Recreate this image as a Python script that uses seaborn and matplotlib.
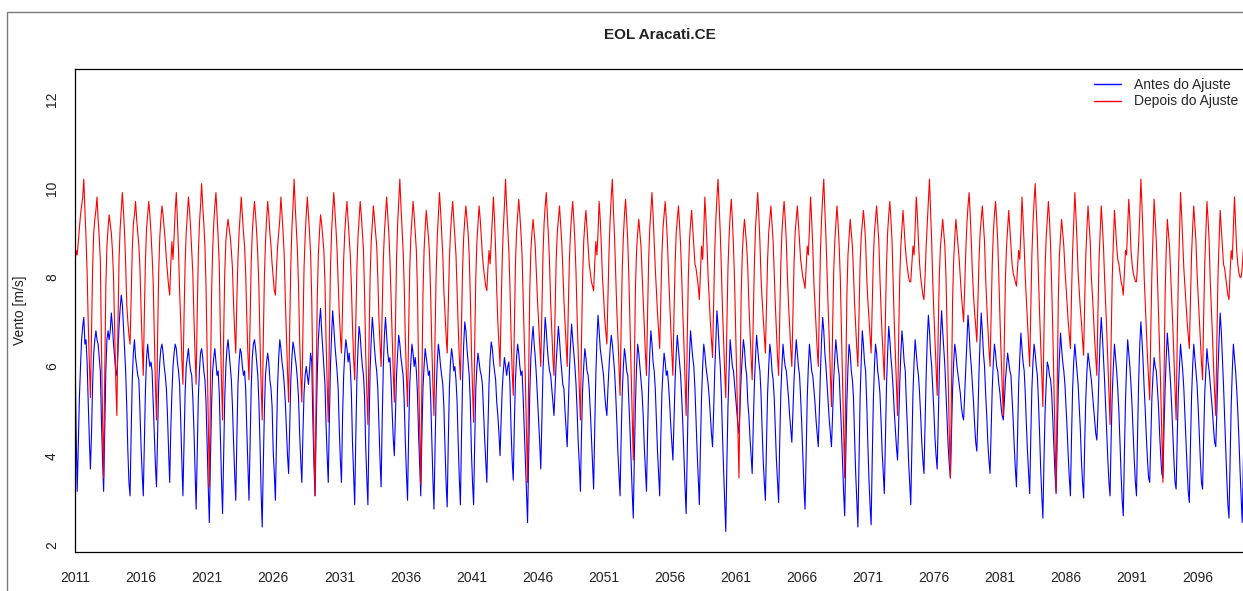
import numpy as np
import pandas as pd
import matplotlib
matplotlib.use("Agg")
import matplotlib.pyplot as plt
import seaborn as sns

# monthly wind speed [m/s], one row per year (Jan..Dec), 2011-2099
anos = list(range(2011, 2100))

antes = [
    [6.4, 4.6, 3.2, 4.3, 5.3, 6.0, 6.6, 6.9, 7.1, 6.5, 6.6, 6.1],  # 2011
    [5.2, 4.4, 3.7, 4.5, 5.6, 6.3, 6.6, 6.8, 6.6, 6.5, 6.2, 5.9],
    [4.8, 3.9, 3.2, 4.6, 5.9, 6.6, 6.8, 6.6, 6.8, 7.2, 6.9, 6.5],
    [6.2, 5.9, 5.8, 6.3, 6.9, 7.3, 7.6, 7.4, 6.9, 6.4, 5.9, 5.1],
    [4.1, 3.4, 3.1, 4.5, 5.7, 6.3, 6.6, 6.2, 6.0, 5.8, 5.7, 5.0],
    [4.2, 3.6, 3.1, 4.3, 5.5, 6.2, 6.5, 6.2, 6.0, 6.1, 5.9, 5.2],  # 2016
    [4.5, 3.8, 3.3, 4.4, 5.6, 6.1, 6.4, 6.5, 6.3, 6.0, 5.8, 5.5],
    [4.9, 4.1, 3.4, 4.6, 5.4, 6.0, 6.3, 6.5, 6.4, 6.1, 5.9, 5.6],
    [4.8, 3.9, 3.1, 4.2, 5.4, 6.0, 6.2, 6.4, 6.1, 5.9, 5.8, 5.3],
    [4.6, 3.7, 2.8, 4.1, 5.3, 5.9, 6.3, 6.4, 6.2, 5.9, 5.7, 5.2],
    [4.2, 3.3, 2.5, 3.9, 5.1, 5.9, 6.2, 6.4, 6.1, 5.8, 5.9, 5.4],  # 2021
    [4.4, 3.5, 2.7, 4.0, 5.3, 6.0, 6.4, 6.6, 6.3, 6.0, 5.7, 5.1],
    [4.3, 3.6, 3.0, 4.4, 5.6, 6.1, 6.4, 6.3, 6.0, 5.8, 5.9, 5.5],
    [4.6, 3.8, 3.0, 4.3, 5.5, 6.2, 6.5, 6.6, 6.4, 6.1, 5.8, 5.2],
    [4.3, 3.2, 2.4, 3.8, 5.0, 5.8, 6.1, 6.3, 6.1, 5.7, 5.5, 5.1],
    [4.1, 3.6, 3.0, 4.4, 5.6, 6.2, 6.6, 6.4, 6.1, 5.9, 5.6, 5.2],  # 2026
    [4.6, 4.0, 3.6, 4.7, 5.7, 6.2, 6.55, 6.4, 6.2, 6.0, 5.7, 5.3],
    [4.5, 3.9, 3.4, 4.5, 5.4, 5.8, 6.0, 5.8, 5.6, 5.9, 6.3, 6.1],
    [4.8, 3.8, 3.1, 4.6, 5.8, 6.6, 7.0, 7.3, 6.8, 6.4, 6.0, 5.6],
    [4.7, 4.0, 3.4, 4.8, 6.0, 6.7, 7.25, 6.9, 6.5, 6.2, 5.9, 5.5],
    [4.6, 3.9, 3.4, 4.9, 5.8, 6.3, 6.6, 6.4, 6.1, 6.3, 6.0, 5.4],  # 2031
    [4.3, 3.6, 2.9, 4.4, 5.7, 6.4, 6.9, 6.7, 6.3, 6.0, 5.8, 5.3],
    [4.2, 3.5, 2.9, 4.6, 5.9, 6.6, 7.1, 6.8, 6.4, 6.1, 5.9, 5.5],
    [4.7, 3.9, 3.3, 4.8, 6.0, 6.7, 7.1, 6.7, 6.3, 6.1, 6.2, 5.7],
    [5.0, 4.4, 4.0, 4.9, 5.8, 6.3, 6.7, 6.5, 6.2, 6.0, 5.8, 5.2],
    [4.3, 3.6, 3.0, 4.5, 5.6, 6.1, 6.5, 6.3, 6.0, 6.2, 5.9, 5.4],  # 2036
    [4.5, 3.8, 3.1, 4.4, 5.5, 6.0, 6.4, 6.2, 6.0, 5.8, 5.9, 5.3],
    [4.4, 3.5, 2.8, 4.2, 5.4, 6.1, 6.5, 6.3, 6.0, 5.8, 5.6, 5.1],
    [4.2, 3.4, 2.85, 4.3, 5.5, 6.1, 6.4, 6.2, 5.9, 6.0, 5.7, 5.2],
    [4.3, 3.5, 2.9, 4.4, 5.7, 6.5, 7.0, 6.8, 6.4, 6.1, 5.8, 5.2],
    [4.1, 3.4, 2.9, 4.3, 5.5, 6.0, 6.3, 6.1, 5.9, 5.8, 5.6, 5.0],  # 2041
    [4.4, 3.9, 3.4, 4.6, 5.6, 6.2, 6.55, 6.4, 6.1, 5.9, 5.7, 5.2],
    [4.9, 4.5, 4.0, 4.8, 5.5, 5.9, 6.2, 6.0, 5.8, 6.0, 6.1, 5.6],
    [4.6, 3.9, 3.45, 4.7, 5.7, 6.2, 6.5, 6.3, 6.0, 5.8, 5.9, 5.3],
    [4.6, 3.9, 3.2, 2.5, 4.0, 5.4, 6.2, 6.6, 6.9, 6.5, 6.2, 5.8],
    [5.3, 4.8, 4.3, 3.7, 4.8, 5.9, 6.5, 7.1, 6.8, 6.4, 6.1, 5.9],  # 2046
    [5.8, 5.5, 5.2, 4.9, 5.5, 6.1, 6.5, 6.9, 6.6, 6.2, 5.9, 5.6],
    [5.5, 5.0, 4.6, 4.2, 5.1, 5.9, 6.5, 6.95, 6.6, 6.3, 6.0, 5.6],
    [5.0, 4.3, 3.8, 3.2, 4.5, 5.5, 6.0, 6.4, 6.2, 5.9, 5.8, 5.5],
    [5.0, 4.4, 3.8, 3.25, 4.6, 5.8, 6.6, 7.15, 6.8, 6.4, 6.2, 6.0],
    [5.8, 5.4, 5.1, 4.9, 5.5, 6.0, 6.4, 6.7, 6.5, 6.2, 5.9, 5.4],  # 2051
    [4.8, 4.1, 3.6, 3.1, 4.4, 5.4, 6.0, 6.4, 6.2, 5.9, 5.8, 5.2],
    [4.6, 3.9, 3.2, 2.6, 4.0, 5.2, 6.0, 6.5, 6.3, 6.0, 5.7, 5.4],
    [4.9, 4.2, 3.7, 3.2, 4.5, 5.6, 6.3, 6.8, 6.5, 6.1, 5.9, 5.5],
    [4.8, 4.1, 3.6, 3.1, 4.4, 5.4, 5.9, 6.3, 6.1, 5.8, 5.9, 5.6],
    [5.2, 4.7, 4.3, 3.9, 4.8, 5.7, 6.3, 6.7, 6.4, 6.1, 5.8, 5.3],  # 2056
    [4.7, 4.0, 3.3, 2.7, 4.1, 5.4, 6.2, 6.8, 6.5, 6.2, 6.0, 5.5],
    [4.8, 4.1, 3.5, 2.9, 4.2, 5.3, 6.0, 6.5, 6.3, 6.0, 5.8, 5.6],
    [5.3, 4.9, 4.5, 4.2, 5.0, 5.9, 6.6, 7.25, 6.9, 6.4, 6.0, 5.4],
    [4.5, 3.7, 3.0, 2.3, 3.8, 5.1, 5.9, 6.6, 6.3, 6.0, 5.9, 5.6],
    [5.3, 5.0, 4.7, 4.5, 5.1, 5.8, 6.2, 6.6, 6.4, 6.0, 5.8, 5.2],  # 2061
    [4.9, 4.4, 4.0, 3.6, 4.7, 5.6, 6.2, 6.7, 6.4, 6.1, 5.9, 5.4],
    [4.6, 3.9, 3.4, 3.0, 4.3, 5.4, 6.0, 6.5, 6.3, 5.9, 5.7, 5.3],
    [4.6, 3.9, 3.4, 2.95, 4.3, 5.4, 6.0, 6.5, 6.2, 6.0, 5.9, 5.6],
    [5.3, 4.9, 4.6, 4.3, 5.0, 5.7, 6.2, 6.6, 6.3, 6.0, 5.8, 5.3],
    [4.7, 4.0, 3.3, 2.8, 4.1, 5.3, 6.0, 6.5, 6.2, 5.9, 5.8, 5.5],  # 2066
    [5.2, 4.8, 4.5, 4.2, 5.0, 5.9, 6.6, 7.1, 6.8, 6.3, 6.0, 5.6],
    [5.2, 4.8, 4.5, 4.2, 4.9, 5.7, 6.2, 6.6, 6.3, 6.0, 5.8, 5.2],
    [4.6, 3.9, 3.2, 2.65, 4.0, 5.2, 6.0, 6.5, 6.3, 5.9, 5.7, 5.3],
    [4.4, 3.6, 3.0, 2.4, 3.9, 5.3, 6.1, 6.8, 6.5, 6.1, 5.9, 5.2],
    [4.3, 3.5, 2.9, 2.45, 3.9, 5.2, 6.0, 6.5, 6.3, 5.9, 5.7, 5.4],  # 2071
    [4.8, 4.1, 3.6, 3.15, 4.4, 5.6, 6.3, 6.9, 6.6, 6.2, 5.9, 5.5],
    [5.0, 4.6, 4.2, 3.9, 4.7, 5.6, 6.3, 6.8, 6.5, 6.1, 5.9, 5.2],
    [4.6, 3.9, 3.4, 2.9, 4.2, 5.4, 6.1, 6.6, 6.3, 6.0, 5.8, 5.4],
    [4.9, 4.3, 3.9, 3.6, 4.7, 5.8, 6.6, 7.15, 6.8, 6.3, 6.0, 5.5],
    [5.0, 4.4, 4.0, 3.7, 4.8, 5.9, 6.7, 7.25, 6.8, 6.4, 6.0, 5.4],  # 2076
    [4.8, 4.2, 3.8, 3.5, 4.5, 5.5, 6.1, 6.5, 6.3, 6.0, 5.8, 5.6],
    [5.4, 5.1, 4.9, 4.8, 5.4, 6.0, 6.6, 7.15, 6.8, 6.3, 6.0, 5.6],
    [5.2, 4.7, 4.3, 4.1, 4.9, 5.9, 6.6, 7.2, 6.8, 6.3, 6.0, 5.4],
    [4.9, 4.3, 3.9, 3.6, 4.6, 5.5, 6.1, 6.5, 6.3, 6.0, 5.9, 5.6],
    [5.4, 5.1, 4.9, 4.8, 5.2, 5.7, 6.0, 6.3, 6.1, 5.9, 5.8, 5.3],  # 2081
    [4.8, 4.2, 3.7, 3.3, 4.5, 5.6, 6.2, 6.75, 6.4, 6.1, 5.9, 5.4],
    [4.7, 4.1, 3.6, 3.15, 4.4, 5.5, 6.1, 6.5, 6.3, 6.0, 5.8, 5.2],
    [4.5, 3.7, 3.1, 2.6, 3.9, 5.0, 5.6, 6.1, 6.0, 5.8, 5.7, 5.4],
    [4.8, 4.2, 3.6, 3.15, 4.4, 5.5, 6.2, 6.75, 6.4, 6.1, 5.9, 5.6],
    [5.1, 4.6, 4.0, 3.5, 3.1, 4.4, 5.5, 6.1, 6.5, 6.2, 5.9, 5.6],  # 2086
    [5.1, 4.6, 3.9, 3.4, 3.05, 4.3, 5.3, 5.9, 6.3, 6.1, 5.9, 5.7],
    [5.4, 5.1, 4.8, 4.5, 4.35, 5.0, 5.9, 6.6, 7.1, 6.7, 6.2, 5.7],
    [5.1, 4.5, 3.9, 3.4, 3.1, 4.4, 5.4, 6.0, 6.5, 6.2, 5.9, 5.5],
    [5.0, 4.3, 3.6, 3.0, 2.65, 4.0, 5.2, 6.0, 6.6, 6.3, 6.0, 5.6],
    [5.1, 4.5, 3.9, 3.4, 3.1, 4.5, 5.7, 6.5, 7.0, 6.6, 6.1, 5.5],  # 2091
    [5.0, 4.4, 3.9, 3.5, 3.4, 4.4, 5.3, 5.8, 6.2, 6.0, 5.9, 5.5],
    [5.1, 4.5, 4.0, 3.6, 3.5, 4.6, 5.5, 6.2, 6.75, 6.4, 6.0, 5.6],
    [5.1, 4.5, 3.9, 3.4, 3.25, 4.4, 5.4, 6.0, 6.5, 6.2, 5.9, 5.5],
    [4.9, 4.3, 3.7, 3.2, 2.95, 4.2, 5.3, 6.0, 6.5, 6.2, 5.9, 5.6],
    [5.1, 4.5, 3.9, 3.4, 3.25, 4.4, 5.4, 5.9, 6.4, 6.1, 5.9, 5.6],  # 2096
    [5.3, 5.0, 4.6, 4.3, 4.2, 5.0, 5.9, 6.6, 7.2, 6.8, 6.2, 5.6],
    [4.9, 4.2, 3.5, 2.9, 2.6, 3.9, 5.1, 5.9, 6.5, 6.2, 5.9, 5.5],
    [5.0, 4.4, 3.7, 3.1, 2.5, 3.8, 5.0, 5.8, 6.3, 6.0, 5.7, 5.3],  # 2099
]

depois = [
    [8.3, 8.6, 8.5, 8.8, 9.1, 9.4, 9.6, 9.8, 10.2, 9.5, 8.9, 8.1],  # 2011
    [7.0, 6.1, 5.3, 6.8, 8.2, 9.0, 9.3, 9.5, 9.8, 9.3, 8.9, 8.4],
    [6.5, 4.9, 3.5, 5.8, 7.8, 8.7, 9.1, 9.4, 9.2, 9.0, 8.6, 8.0],
    [6.8, 5.7, 4.9, 6.9, 8.4, 9.1, 9.5, 9.9, 9.5, 9.0, 8.3, 7.4],
    [7.0, 6.7, 6.5, 7.6, 8.6, 9.2, 9.4, 9.7, 9.3, 9.0, 8.7, 8.2],
    [7.3, 6.5, 5.8, 7.2, 8.4, 9.1, 9.4, 9.7, 9.4, 9.0, 8.5, 7.9],  # 2016
    [6.7, 5.6, 4.8, 6.6, 8.1, 8.9, 9.3, 9.6, 9.4, 9.1, 8.8, 8.4],
    [8.1, 7.8, 7.6, 8.3, 8.8, 8.4, 8.9, 9.5, 9.9, 9.3, 8.6, 7.7],
    [7.0, 6.2, 5.6, 7.1, 8.3, 9.0, 9.4, 9.8, 9.5, 9.1, 8.6, 8.1],
    [7.1, 6.3, 5.6, 7.2, 8.5, 9.2, 9.6, 10.1, 9.6, 9.2, 8.7, 7.8],
    [6.3, 4.8, 3.3, 5.6, 7.6, 8.6, 9.2, 9.6, 9.9, 9.4, 8.9, 8.3],  # 2021
    [6.8, 5.7, 4.8, 6.7, 8.1, 8.8, 9.1, 9.3, 9.1, 8.9, 8.6, 8.2],
    [7.4, 6.8, 6.3, 7.5, 8.4, 9.0, 9.4, 9.8, 9.4, 9.0, 8.7, 8.1],
    [7.1, 6.3, 5.7, 7.0, 8.3, 9.0, 9.4, 9.7, 9.4, 9.0, 8.5, 7.8],
    [6.6, 5.6, 4.8, 6.6, 8.0, 8.8, 9.3, 9.7, 9.4, 9.0, 8.7, 8.3],
    [8.0, 7.7, 7.6, 8.2, 8.7, 9.0, 9.3, 9.8, 9.4, 9.0, 8.5, 7.5],  # 2026
    [6.7, 5.9, 5.2, 6.9, 8.3, 9.1, 9.6, 10.2, 9.6, 9.1, 8.6, 7.8],
    [6.6, 5.8, 5.2, 6.8, 8.2, 8.9, 9.4, 9.8, 9.4, 9.0, 8.5, 7.5],
    [5.8, 4.3, 3.1, 5.5, 7.5, 8.5, 9.0, 9.4, 9.2, 8.9, 8.6, 7.9],
    [6.6, 5.6, 4.75, 6.6, 8.2, 9.0, 9.5, 9.9, 9.5, 9.1, 8.6, 7.9],
    [7.2, 6.7, 6.3, 7.4, 8.4, 9.0, 9.4, 9.7, 9.3, 8.9, 8.5, 7.8],  # 2031
    [6.9, 6.2, 5.7, 7.0, 8.2, 8.9, 9.3, 9.7, 9.4, 9.0, 8.6, 7.6],
    [6.3, 5.4, 4.7, 6.5, 8.0, 8.8, 9.2, 9.6, 9.3, 9.0, 8.7, 8.0],
    [7.1, 6.5, 6.0, 7.3, 8.4, 9.0, 9.4, 9.8, 9.4, 9.0, 8.4, 7.6],
    [6.7, 5.9, 5.2, 6.9, 8.4, 9.2, 9.7, 10.2, 9.6, 9.1, 8.6, 7.8],
    [6.6, 5.8, 5.1, 6.8, 8.2, 8.9, 9.3, 9.7, 9.4, 9.0, 8.6, 7.7],  # 2036
    [6.0, 4.6, 3.35, 5.6, 7.6, 8.6, 9.1, 9.5, 9.2, 8.9, 8.5, 7.6],
    [6.5, 5.6, 4.9, 6.7, 8.1, 8.9, 9.4, 9.9, 9.5, 9.0, 8.5, 7.7],
    [7.2, 6.7, 6.3, 7.4, 8.4, 9.0, 9.4, 9.7, 9.3, 8.9, 8.5, 7.7],
    [6.9, 6.2, 5.7, 7.0, 8.2, 8.9, 9.3, 9.6, 9.3, 9.0, 8.5, 7.6],
    [6.4, 5.5, 4.75, 6.5, 8.0, 8.8, 9.2, 9.6, 9.3, 8.9, 8.5, 8.2],  # 2041
    [8.0, 7.8, 7.7, 8.2, 8.6, 8.3, 8.8, 9.3, 9.8, 9.3, 8.6, 7.7],
    [7.0, 6.5, 6.0, 7.3, 8.4, 9.1, 9.6, 10.2, 9.6, 9.1, 8.6, 7.8],
    [6.7, 5.9, 5.35, 6.9, 8.3, 9.0, 9.4, 9.75, 9.4, 9.0, 8.5, 7.5],
    [6.6, 5.7, 4.6, 3.4, 5.8, 7.7, 8.6, 9.0, 9.3, 9.0, 8.7, 8.1],
    [7.5, 7.0, 6.5, 6.0, 7.3, 8.5, 9.2, 9.6, 9.9, 9.4, 8.9, 8.3],  # 2046
    [7.4, 6.8, 6.2, 5.8, 7.2, 8.4, 9.0, 9.3, 9.6, 9.2, 8.8, 8.2],
    [7.5, 7.0, 6.5, 6.0, 7.3, 8.4, 9.0, 9.4, 9.7, 9.3, 8.8, 8.1],
    [7.1, 6.3, 5.5, 4.8, 6.6, 8.0, 8.8, 9.2, 9.5, 9.1, 8.7, 8.3],
    [8.1, 7.9, 7.8, 7.7, 8.3, 8.8, 8.5, 9.0, 9.7, 9.3, 8.7, 8.0],
    [7.6, 7.1, 6.8, 6.5, 7.6, 8.6, 9.3, 9.8, 10.2, 9.5, 8.9, 8.1],  # 2051
    [7.3, 6.7, 6.0, 5.35, 6.9, 8.2, 8.9, 9.4, 9.75, 9.3, 8.8, 8.0],
    [7.0, 6.0, 4.9, 3.9, 6.0, 7.8, 8.6, 9.0, 9.3, 9.0, 8.7, 8.1],
    [7.5, 6.9, 6.3, 5.8, 7.2, 8.4, 9.1, 9.5, 9.9, 9.4, 8.8, 8.2],
    [7.7, 7.2, 6.8, 6.4, 7.5, 8.5, 9.1, 9.4, 9.7, 9.3, 8.8, 8.1],
    [7.5, 6.9, 6.3, 5.8, 7.2, 8.3, 9.0, 9.3, 9.6, 9.2, 8.7, 8.0],  # 2056
    [7.2, 6.5, 5.7, 4.9, 6.6, 8.0, 8.8, 9.2, 9.5, 9.1, 8.7, 8.3],
    [8.2, 8.0, 7.8, 7.5, 8.1, 8.7, 8.4, 9.0, 9.8, 9.3, 8.7, 8.0],
    [7.5, 7.0, 6.6, 6.2, 7.4, 8.6, 9.3, 9.8, 10.2, 9.6, 9.0, 8.2],
    [7.3, 6.6, 5.9, 5.3, 6.9, 8.2, 8.9, 9.4, 9.75, 9.3, 8.7, 7.9],
    [6.8, 5.6, 4.5, 3.5, 5.7, 7.6, 8.5, 9.0, 9.3, 9.0, 8.7, 8.2],  # 2061
    [7.4, 6.8, 6.2, 5.7, 7.1, 8.3, 9.1, 9.5, 9.9, 9.4, 8.8, 8.0],
    [7.5, 7.1, 6.7, 6.3, 7.4, 8.4, 9.0, 9.3, 9.6, 9.2, 8.8, 8.1],
    [7.4, 6.8, 6.2, 5.8, 7.1, 8.3, 9.0, 9.4, 9.7, 9.3, 8.8, 8.0],
    [7.4, 6.9, 6.4, 6.0, 7.2, 8.3, 9.0, 9.3, 9.6, 9.2, 8.8, 8.4],
    [8.2, 8.0, 7.9, 7.75, 8.2, 8.7, 8.5, 9.1, 9.8, 9.3, 8.7, 7.9],  # 2066
    [7.4, 6.9, 6.4, 6.0, 7.3, 8.6, 9.3, 9.8, 10.2, 9.5, 8.9, 8.1],
    [7.3, 6.6, 5.8, 5.1, 6.8, 8.1, 8.8, 9.2, 9.6, 9.2, 8.7, 8.0],
    [6.9, 5.8, 4.6, 3.5, 5.7, 7.6, 8.5, 8.9, 9.3, 9.0, 8.7, 8.1],
    [7.4, 6.9, 6.4, 6.0, 7.2, 8.3, 8.9, 9.2, 9.5, 9.2, 8.8, 8.0],
    [7.5, 7.1, 6.7, 6.3, 7.4, 8.4, 9.0, 9.3, 9.6, 9.2, 8.8, 8.0],  # 2071
    [7.3, 6.7, 6.2, 5.7, 7.1, 8.3, 9.0, 9.4, 9.7, 9.3, 8.8, 7.9],
    [7.0, 6.3, 5.6, 4.9, 6.6, 8.0, 8.7, 9.1, 9.5, 9.1, 8.7, 8.4],
    [8.2, 8.0, 7.9, 7.9, 8.3, 8.7, 8.5, 9.1, 9.8, 9.4, 8.8, 8.3],
    [8.0, 7.8, 7.6, 7.5, 8.0, 8.7, 9.2, 9.7, 10.2, 9.5, 8.8, 7.9],
    [7.2, 6.6, 6.0, 5.35, 6.9, 8.1, 8.7, 9.0, 9.3, 9.0, 8.7, 8.0],  # 2076
    [6.8, 5.6, 4.5, 3.5, 5.6, 7.5, 8.4, 8.9, 9.3, 9.0, 8.7, 8.4],
    [8.0, 7.6, 7.3, 7.0, 7.8, 8.6, 9.2, 9.6, 9.9, 9.4, 8.8, 8.1],
    [7.6, 7.2, 6.9, 6.55, 7.5, 8.4, 9.0, 9.3, 9.6, 9.2, 8.8, 8.0],
    [7.4, 6.9, 6.4, 6.0, 7.2, 8.3, 9.0, 9.4, 9.7, 9.3, 8.8, 8.0],
    [7.1, 6.3, 5.6, 4.9, 6.6, 8.0, 8.7, 9.1, 9.5, 9.1, 8.7, 8.3],  # 2081
    [8.1, 8.0, 7.9, 7.8, 8.2, 8.6, 8.4, 9.0, 9.8, 9.3, 8.7, 8.0],
    [7.5, 7.0, 6.5, 6.0, 7.3, 8.5, 9.2, 9.7, 10.1, 9.5, 8.9, 8.0],
    [7.2, 6.5, 5.8, 5.1, 6.8, 8.2, 8.9, 9.3, 9.7, 9.3, 8.7, 7.8],
    [6.8, 5.6, 4.4, 3.2, 5.5, 7.5, 8.5, 8.9, 9.3, 9.0, 8.7, 8.2],
    [7.8, 7.4, 7.0, 6.7, 6.4, 7.6, 8.6, 9.2, 9.9, 9.4, 8.8, 8.1],  # 2086
    [7.7, 7.3, 7.0, 6.6, 6.25, 7.5, 8.5, 9.1, 9.6, 9.2, 8.8, 8.0],
    [7.6, 7.1, 6.6, 6.2, 5.8, 7.2, 8.4, 9.0, 9.6, 9.2, 8.7, 8.0],
    [7.4, 6.8, 6.1, 5.4, 4.7, 6.6, 8.0, 8.8, 9.5, 9.1, 8.7, 8.4],
    [8.3, 8.1, 7.9, 7.8, 7.6, 8.1, 8.6, 8.5, 9.1, 9.75, 9.3, 8.6],
    [8.3, 8.1, 8.0, 7.9, 7.9, 8.3, 8.8, 9.4, 10.2, 9.6, 8.9, 8.0],  # 2091
    [7.4, 6.8, 6.2, 5.7, 5.25, 6.8, 8.1, 8.9, 9.75, 9.3, 8.8, 8.0],
    [7.2, 6.4, 5.5, 4.5, 3.4, 5.7, 7.6, 8.6, 9.3, 9.0, 8.7, 8.1],
    [7.5, 6.9, 6.2, 5.5, 4.8, 6.6, 8.0, 8.9, 9.9, 9.4, 8.8, 8.2],
    [7.8, 7.4, 7.0, 6.7, 6.4, 7.5, 8.5, 9.1, 9.6, 9.2, 8.8, 8.1],
    [7.6, 7.1, 6.6, 6.1, 5.7, 7.1, 8.3, 9.0, 9.7, 9.3, 8.8, 7.9],  # 2096
    [7.3, 6.7, 6.0, 5.4, 4.9, 6.6, 8.0, 8.8, 9.5, 9.1, 8.7, 8.3],
    [8.2, 8.0, 7.8, 7.6, 7.5, 8.1, 8.6, 8.4, 9.1, 9.8, 9.2, 8.6],
    [8.3, 8.1, 8.0, 8.0, 8.2, 8.6, 8.9, 9.4, 9.0, 8.8, 8.6, 8.5],  # 2099
]

series = ["Antes do Ajuste", "Depois do Ajuste"]
cores = {"Antes do Ajuste": "blue", "Depois do Ajuste": "red"}
anos_ticks = list(range(2011, 2100, 5))

# long table for seaborn
linhas = []
for nome, tabela in zip(series, [antes, depois]):
    for ano, valores in zip(anos, tabela):
        assert len(valores) == 12, (nome, ano)
        for m, v in enumerate(valores):
            linhas.append({"tempo": ano + m / 12, "vento": v, "serie": nome})
df = pd.DataFrame(linhas)

sns.set_style("white")
plt.rcParams["font.family"] = ["Liberation Sans", "DejaVu Sans"]

fig = plt.figure(figsize=(12.43, 5.91), dpi=100)
ax = fig.add_axes([75 / 1243, 1 - 552 / 591, 1176 / 1243, 483 / 591])

sns.lineplot(data=df, x="tempo", y="vento", hue="serie", hue_order=series,
             palette=cores, estimator=None, linewidth=0.8, ax=ax, legend=False)

ax.set_xlim(2011, 2100)
ax.set_ylim(1.84, 12.67)
ax.set_xticks(anos_ticks)
ax.set_xticklabels([str(a) for a in anos_ticks])
ax.set_yticks([2, 4, 6, 8, 10, 12])
ax.set_yticklabels(["2", "4", "6", "8", "10", "12"], rotation=90, va="center")
ax.tick_params(axis="both", direction="out", length=6, width=0.8,
               color="black", labelsize=10, labelcolor="#222222")
ax.tick_params(axis="x", pad=8)
ax.tick_params(axis="y", pad=5.5)
for s in ax.spines.values():
    s.set_color("black")
    s.set_linewidth(0.9)

ax.set_xlabel("")
ax.set_ylabel("Vento [m/s]", fontsize=10, color="#222222")
ax.yaxis.set_label_coords(-48 / 1176, 0.5)

fig.text(660 / 1243, 1 - 35 / 591, "EOL Aracati.CE", ha="center", va="center",
         fontsize=11, fontweight="bold", color="#222222")

# legend without box, top right (partly cut like the original)
from matplotlib.lines import Line2D
handles = [Line2D([], [], color=cores[s], lw=1.0) for s in series]
fig.legend(handles, series, loc="upper left",
           bbox_to_anchor=(1094 / 1243, 1 - 78 / 591),
           frameon=False, fontsize=10, handlelength=1.95, handletextpad=0.95,
           labelspacing=0.18, borderpad=0, borderaxespad=0)

# outer gray frame of the exported image
fig.add_artist(plt.Rectangle((7 / 1243, -0.1), 1.2, 1.1 - 12 / 591,
                             transform=fig.transFigure, fill=False,
                             edgecolor="#7a7a7a", linewidth=1.0, clip_on=False))

fig.savefig("out.png", dpi=100)
